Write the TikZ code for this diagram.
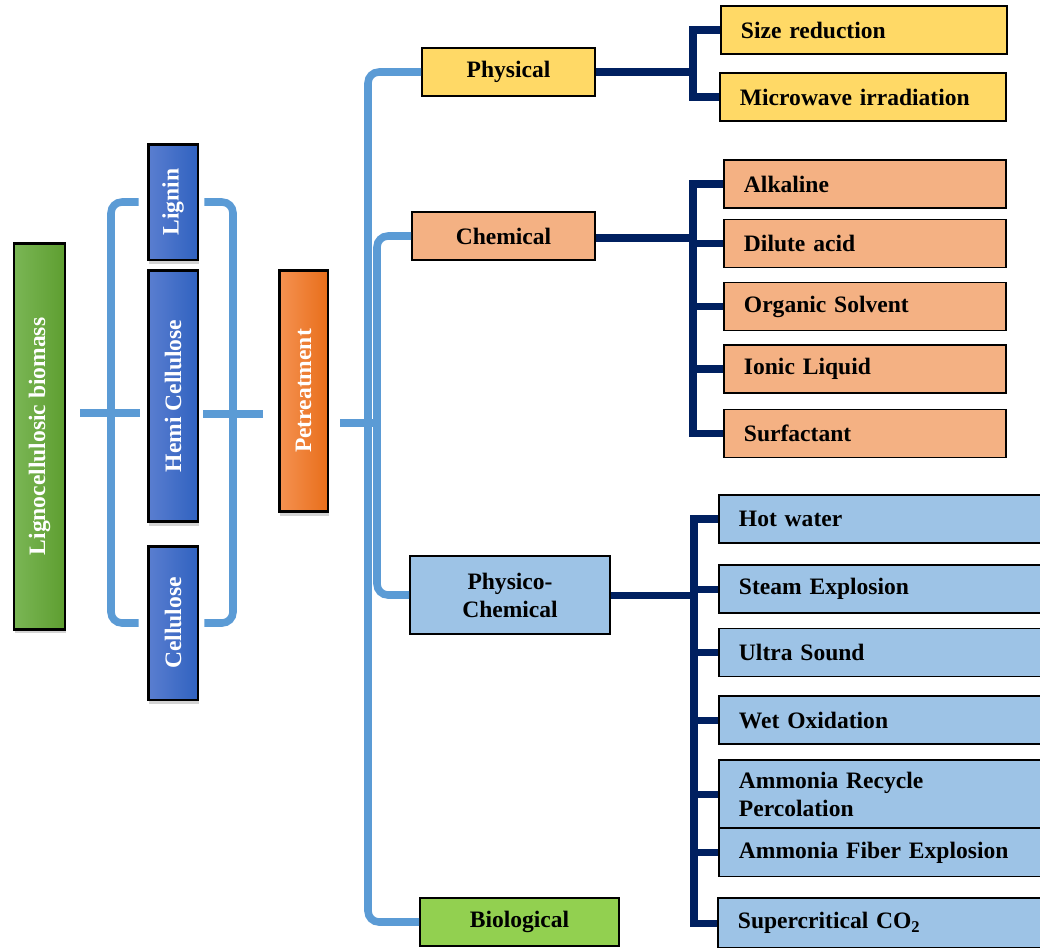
\documentclass[tikz,border=0pt]{standalone}
\usepackage{fontspec}
\setmainfont{Liberation Serif}
\usepackage{graphicx}
\usetikzlibrary{shadows}

\definecolor{navy}{HTML}{002060}
\definecolor{bracketblue}{HTML}{5B9BD5}
\definecolor{physyellow}{HTML}{FFD966}
\definecolor{chemsalmon}{HTML}{F4B183}
\definecolor{pcblue}{HTML}{9DC3E6}
\definecolor{biogreen}{HTML}{92D050}
\definecolor{greenlight}{RGB}{122,182,85}
\definecolor{greendark}{RGB}{94,158,48}
\definecolor{bluelight}{RGB}{90,126,208}
\definecolor{bluedark}{RGB}{48,98,192}
\definecolor{orangelight}{RGB}{245,146,82}
\definecolor{orangedark}{RGB}{232,110,26}

\tikzset{
  leftbox/.style={draw=black, line width=1.7pt, inner sep=0pt, text=white,
    drop shadow={shadow xshift=0.6pt, shadow yshift=-2pt, opacity=0.35}},
  cat/.style={draw, line width=1.1pt, inner sep=0pt, minimum height=0.96cm, align=center},
  sub/.style={draw, line width=1.1pt, anchor=west, align=left, inner xsep=0.4cm,
    inner ysep=0pt, minimum height=0.96cm},
  physsub/.style={sub, fill=physyellow, text width=4.92cm},
  chemsub/.style={sub, fill=chemsalmon, text width=4.84cm},
  pcsub/.style={sub, fill=pcblue, text width=6cm},
  brace/.style={draw=bracketblue, line width=4.3pt, rounded corners=0.22cm},
  link/.style={draw=navy, line width=4pt}
}

\begin{document}
\begin{tikzpicture}[x=0.02cm, y=-0.02cm, font=\fontsize{13.4}{16}\selectfont\bfseries]
\useasboundingbox (0,0) rectangle (1040,947);

% biomass and its parts
\node[leftbox, left color=greenlight, right color=greendark,
  minimum width=1.02cm, minimum height=7.74cm] (bio) at (39.5,436.5) {\rotatebox{90}{Lignocellulosic biomass}};
\node[leftbox, left color=bluelight, right color=bluedark,
  minimum width=1cm, minimum height=2.32cm] (lignin) at (173,202) {\rotatebox{90}{Lignin}};
\node[leftbox, left color=bluelight, right color=bluedark,
  minimum width=1cm, minimum height=5.04cm] (hemi) at (173,396) {\rotatebox{90}{Hemi Cellulose}};
\node[leftbox, left color=bluelight, right color=bluedark,
  minimum width=1cm, minimum height=3.08cm] (cellu) at (173,623) {\rotatebox{90}{Cellulose}};
\node[leftbox, left color=orangelight, right color=orangedark,
  minimum width=0.98cm, minimum height=4.84cm] (pret) at (303.5,391) {\rotatebox{90}{Petreatment}};

\draw[brace] ([xshift=-0.16cm]lignin.west) -| (111,413) |- ([xshift=-0.16cm]cellu.west);
\draw[brace, rounded corners=0] (80,413) -- (140,413);
\draw[brace] ([xshift=0.1cm]lignin.east) -| (233,413) |- ([xshift=0.1cm]cellu.east);
\draw[brace, rounded corners=0] (203,414) -- (263,414);

% pretreatment classes
\node[cat, fill=physyellow, minimum width=3.46cm] (phys) at (508.5,72) {Physical};
\node[cat, fill=chemsalmon, minimum width=3.66cm] (chem) at (503.5,236) {Chemical};
\node[cat, fill=pcblue, minimum width=4cm, minimum height=1.56cm] (phch) at (510,595) {Physico-\\Chemical};
\node[cat, fill=biogreen, minimum width=3.98cm] (biol) at (519.5,922) {Biological};

\coordinate (ptip) at (340,423);
\draw[brace] (phys.west) -| (368,600) |- (biol.west);
\draw[brace] (chem.west) -| (377,420) |- (phch.west);
\draw[brace, rounded corners=0] (ptip) -- ++(41,0);

% physical
\node[physsub] (sizer) at (720,30) {Size reduction};
\node[physsub] (micro) at (719,97) {Microwave irradiation};
\coordinate (pbus) at (693,72);
\draw[link] (phys.east) -- (pbus);
\draw[link] (sizer.west) -| (pbus);
\draw[link] (micro.west) -| (pbus);

% chemical
\node[chemsub] (alk) at (723,184) {Alkaline};
\node[chemsub] (dil) at (723,243.5) {Dilute acid};
\node[chemsub] (org) at (723,306.5) {Organic Solvent};
\node[chemsub] (ion) at (723,369) {Ionic Liquid};
\node[chemsub] (surf) at (723,433.5) {Surfactant};
\coordinate (cbus) at (693,238);
\draw[link] (chem.east |- cbus) -- (cbus);
\draw[link] (alk.west) -| (cbus);
\draw[link] (dil.west) -| (cbus);
\draw[link] (org.west) -| (cbus);
\draw[link] (ion.west) -| (cbus);
\draw[link] (surf.west) -| (cbus);

% physico-chemical
\node[pcsub] (hot) at (718,519) {Hot water};
\node[pcsub] (steam) at (718,589) {Steam Explosion};
\node[pcsub] (ultra) at (718,652.5) {Ultra Sound};
\node[pcsub] (wet) at (718,720) {Wet Oxidation};
\node[pcsub, minimum height=1.36cm] (arp) at (718,794) {Ammonia Recycle\\Percolation};
\node[pcsub] (afe) at (718,852.5) {Ammonia Fiber Explosion};
\node[pcsub, minimum height=1cm] (sc) at (717,923) {Supercritical CO\textsubscript{2}};
\coordinate (pcbus) at (694,595);
\draw[link] (phch.east) -- (pcbus);
\draw[link] (hot.west) -| (pcbus);
\draw[link] (steam.west) -| (pcbus);
\draw[link] (ultra.west) -| (pcbus);
\draw[link] (wet.west) -| (pcbus);
\draw[link] (arp.west) -| (pcbus);
\draw[link] (afe.west) -| (pcbus);
\draw[link] (sc.west) -| (pcbus);
\end{tikzpicture}
\end{document}
